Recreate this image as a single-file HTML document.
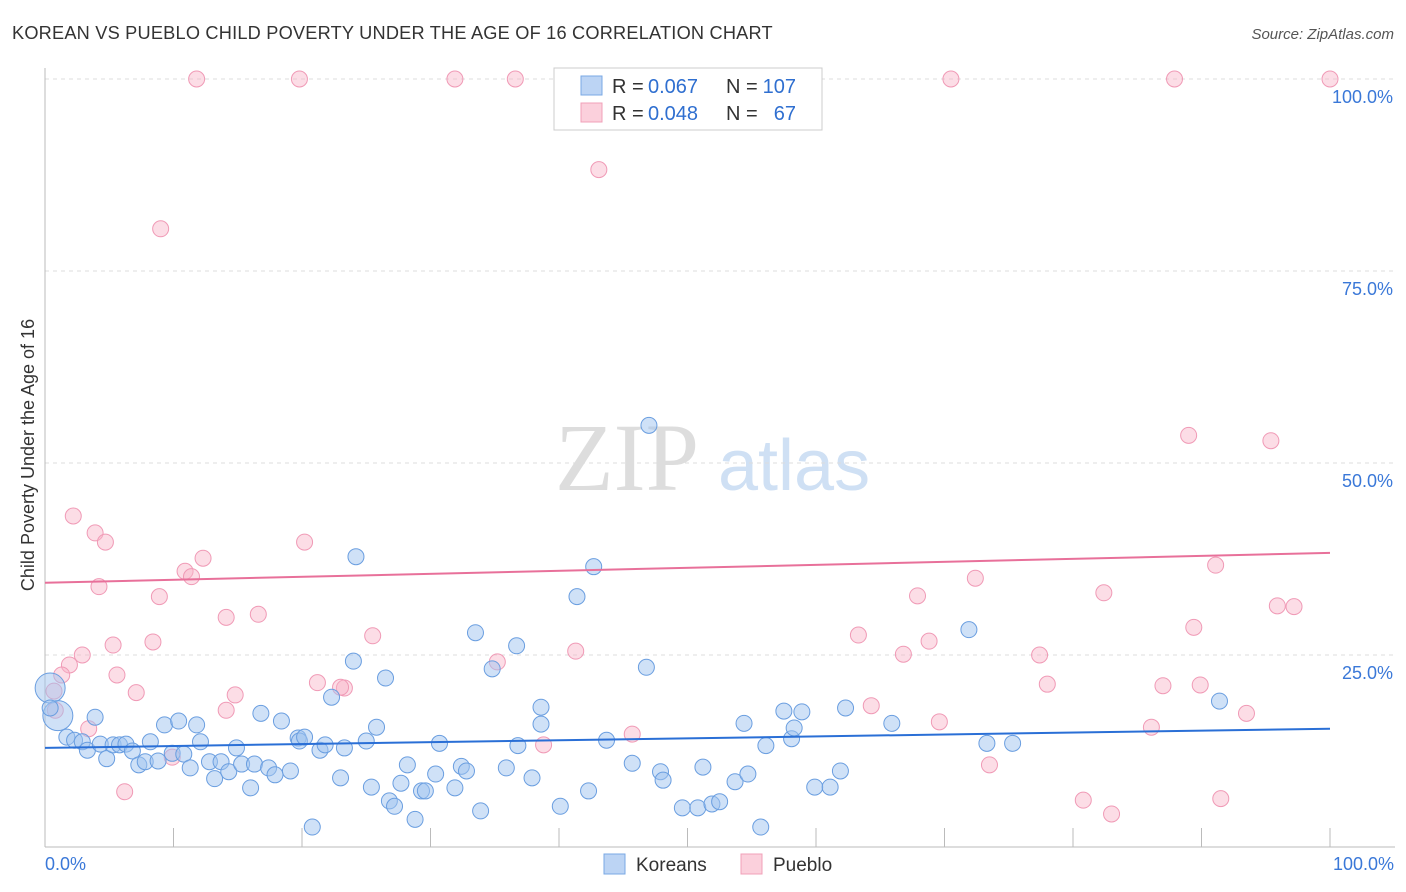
<!DOCTYPE html>
<html><head><meta charset="utf-8"><style>
body{margin:0;background:#fff;font-family:"Liberation Sans",sans-serif;}
svg{display:block}
</style></head><body>
<svg id="c" width="1406" height="892" xmlns="http://www.w3.org/2000/svg">
<text x="12" y="39" font-size="18.2" letter-spacing="0.2" fill="#333">KOREAN VS PUEBLO CHILD POVERTY UNDER THE AGE OF 16 CORRELATION CHART</text>
<text x="1394" y="39" font-size="15" fill="#555" font-style="italic" text-anchor="end">Source: ZipAtlas.com</text>
<text x="555" y="490" font-size="96" fill="#ddd" font-family="Liberation Serif,serif">ZIP</text>
<text x="718" y="490" font-size="72" fill="#cfe0f4">atlas</text>
<text transform="translate(34,455) rotate(-90)" font-size="18" fill="#333" text-anchor="middle">Child Poverty Under the Age of 16</text>
<g id="grid"></g><g id="pts"></g><g id="lines"></g>
<g>
<rect x="554" y="68" width="268" height="62" fill="#fff" stroke="#ccc"/>
<rect x="581" y="76" width="21" height="19" fill="#bcd4f4" stroke="#7aa8e4"/>
<rect x="581" y="103" width="21" height="19" fill="#bcd4f4" stroke="#7aa8e4" style="fill:#fbd0dc;stroke:#f0a0b8"/>
<text x="612" y="93" font-size="20" fill="#333">R =</text>
<text x="648" y="93" font-size="20" fill="#2f6fd0">0.067</text>
<text x="726" y="93" font-size="20" fill="#333">N =</text>
<text x="796" y="93" font-size="20" fill="#2f6fd0" text-anchor="end">107</text>
<text x="612" y="120" font-size="20" fill="#333">R =</text>
<text x="648" y="120" font-size="20" fill="#2f6fd0">0.048</text>
<text x="726" y="120" font-size="20" fill="#333">N =</text>
<text x="796" y="120" font-size="20" fill="#2f6fd0" text-anchor="end">67</text>
</g>
<g>
<rect x="604" y="854" width="21" height="20" fill="#bcd4f4" stroke="#7aa8e4"/>
<text x="636" y="871" font-size="19" fill="#333">Koreans</text>
<rect x="741" y="854" width="21" height="20" fill="#fbd0dc" stroke="#f0a0b8"/>
<text x="773" y="871" font-size="19" fill="#333">Pueblo</text>
</g>
</svg>
<script>
const yTicks=[100,75,50,25];
const xTickLabels=["0.0%","100.0%"];
const blueX=[0.4,1.0,0.4,1.7,2.3,2.9,3.3,3.9,4.3,4.8,5.3,5.8,6.3,6.8,7.3,7.8,8.2,8.8,9.3,9.9,10.4,10.8,11.3,11.8,12.1,12.8,13.2,13.7,14.3,14.9,15.3,16.0,16.3,16.8,17.4,17.9,18.4,19.1,19.7,19.8,20.2,20.8,21.4,21.8,22.3,23.0,23.3,24.0,24.2,25.0,25.4,25.8,26.5,26.8,27.2,27.7,28.2,28.8,29.3,29.6,30.4,30.7,31.9,32.4,32.8,33.5,33.9,34.8,35.9,36.8,36.7,37.9,38.6,38.6,40.1,41.4,42.3,42.7,43.7,45.7,47.0,46.8,47.9,48.1,49.6,50.8,51.2,51.9,52.5,53.7,54.4,54.7,56.1,57.5,58.1,58.3,58.9,59.9,61.1,61.9,62.3,65.9,71.9,73.3,75.3,91.4,55.7];
const blueY=[20.7,17.1,18.1,14.3,13.9,13.7,12.6,16.9,13.4,11.5,13.3,13.3,13.4,12.5,10.7,11.1,13.7,11.2,15.9,12.2,16.4,12.1,10.3,15.9,13.7,11.1,8.9,11.1,9.8,12.9,10.8,7.7,10.8,17.4,10.3,9.4,16.4,9.9,14.2,13.8,14.3,2.6,12.6,13.3,19.5,9.0,12.9,24.2,37.8,13.8,7.8,15.6,22.0,6.0,5.3,8.3,10.7,3.6,7.3,7.3,9.5,13.5,7.7,10.5,9.9,27.9,4.7,23.2,10.3,13.2,26.2,9.0,18.2,16.0,5.3,32.6,7.3,36.5,13.9,10.9,54.9,23.4,9.8,8.7,5.1,5.1,10.4,5.6,5.9,8.5,16.1,9.5,13.2,17.7,14.1,15.5,17.6,7.8,7.8,9.9,18.1,16.1,28.3,13.5,13.5,19.0,2.6];
const pinkX=[11.8,19.8,31.9,36.6,59.5,70.5,87.9,100,43.1,9.0,2.2,3.9,4.7,4.2,8.9,12.3,10.9,11.4,14.1,16.6,20.2,8.4,5.3,2.9,1.9,1.3,5.6,7.1,14.8,14.1,0.7,0.8,3.4,6.2,9.9,21.2,23.3,23.0,25.5,35.2,41.3,38.8,45.7,63.3,66.8,68.8,67.9,72.4,64.3,69.6,77.4,78.0,82.4,87.0,89.4,89.9,91.1,93.5,89.0,95.4,95.9,97.2,86.1,73.5,80.8,83.0,91.5];
const pinkY=[100,100,100,100,100,100,100,100,88.2,80.5,43.1,40.9,39.7,33.9,32.6,37.6,35.9,35.2,29.9,30.3,39.7,26.7,26.3,25.0,23.7,22.4,22.4,20.1,19.8,17.8,20.3,17.8,15.4,7.2,11.7,21.4,20.7,20.8,27.5,24.1,25.5,13.3,14.7,27.6,25.1,26.8,32.7,35.0,18.4,16.3,25.0,21.2,33.1,21.0,28.6,21.1,36.7,17.4,53.6,52.9,31.4,31.3,15.6,10.7,6.1,4.3,6.3];
const blueLine=[12.9,15.4];
const pinkLine=[34.4,38.3];
const X0=45,X1=1330,Y0=847,Y1=79;
const sx=v=>X0+(X1-X0)*v/100, sy=v=>Y0-(Y0-Y1)*v/100;
const NS="http://www.w3.org/2000/svg";
function mk(tag,attrs,parent){const e=document.createElementNS(NS,tag);for(const k in attrs)e.setAttribute(k,attrs[k]);parent.appendChild(e);return e;}
const grid=document.getElementById('grid');
yTicks.forEach(t=>{
 const l=mk('line',{x1:X0,x2:1395,y1:sy(t),y2:sy(t),stroke:'#ddd','stroke-dasharray':'4,4'},grid);
 
 
 const tx=mk('text',{x:1393,y:sy(t)+24,'font-size':18,fill:'#3a78d8','text-anchor':'end'},grid);
 tx.textContent=t.toFixed(1)+'%';
 
 
});
const ax=mk('line',{x1:X0,x2:1395,y1:Y0,y2:Y0,stroke:'#bbb'},grid);


const ay=mk('line',{x1:X0,x2:X0,y1:68,y2:Y0,stroke:'#bbb'},grid);


for(let i=0;i<=10;i++){
 const t=mk('line',{x1:sx(i*10),x2:sx(i*10),y1:828,y2:Y0,stroke:'#bbb'},grid);
 
 
}
[[0,'start',X0],[1,'end',1394]].forEach(([i,a,x])=>{
 const t=mk('text',{x:x,y:870,'font-size':18,fill:'#3a78d8','text-anchor':a},grid);
 t.textContent=xTickLabels[i];
 
 
});
const pts=document.getElementById('pts');
pinkX.forEach((x,i)=>{
 const c=mk('circle',{cx:sx(x),cy:sy(pinkY[i]),r:8,fill:'rgba(248,180,200,0.45)',stroke:'#f09ab6','stroke-width':1},pts);
 
 
});
blueX.forEach((x,i)=>{
 const r=i<2?15:8;
 const c=mk('circle',{cx:sx(x),cy:sy(blueY[i]),r:r,fill:'rgba(160,196,240,0.5)',stroke:'#6a9ee0','stroke-width':1},pts);
 
 
});
const lines=document.getElementById('lines');
const bl=mk('line',{x1:sx(0),x2:sx(100),y1:sy(blueLine[0]),y2:sy(blueLine[1]),stroke:'#2a6fd6','stroke-width':2},lines);


const pl=mk('line',{x1:sx(0),x2:sx(100),y1:sy(pinkLine[0]),y2:sy(pinkLine[1]),stroke:'#e8709a','stroke-width':2},lines);


</script>
</body></html>
